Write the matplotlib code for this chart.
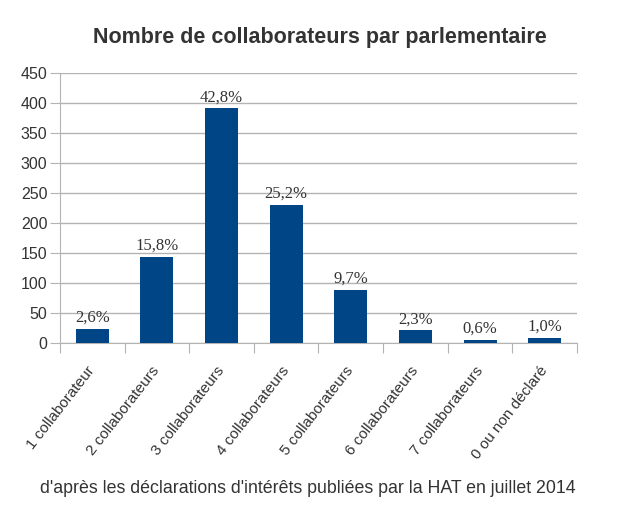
import matplotlib.pyplot as plt
import numpy as np

# Nombre de collaborateurs par parlementaire (déclarations HAT, juillet 2014)
categories = ["1 collaborateur", "2 collaborateurs", "3 collaborateurs",
              "4 collaborateurs", "5 collaborateurs", "6 collaborateurs",
              "7 collaborateurs", "0 ou non déclaré"]
counts = [24, 144, 391, 230, 89, 21, 5, 9]
pct_labels = ["2,6%", "15,8%", "42,8%", "25,2%", "9,7%", "2,3%", "0,6%", "1,0%"]
yticks = [0, 50, 100, 150, 200, 250, 300, 350, 400, 450]

bar_color = "#004586"
grid_color = "#b3b3b3"
text_color = "#333333"

plt.rcParams['font.family'] = ['Liberation Sans', 'DejaVu Sans']

fig = plt.figure(figsize=(6.2, 5.11), dpi=100)
ax = fig.add_axes([0.0968, 0.3288, 0.8338, 0.5283])

x = np.arange(len(categories))
ax.bar(x, counts, width=0.51, color=bar_color, zorder=3)

for xi, c, lab in zip(x, counts, pct_labels):
    ax.text(xi, c + 5, lab, ha="center", va="bottom", fontsize=12,
            family=["Liberation Serif", "DejaVu Serif"], color=text_color, zorder=4)

ax.set_xlim(-0.5, len(categories) - 0.5)
ax.set_ylim(0, 450)
ax.set_yticks(yticks)
ax.yaxis.grid(True, color=grid_color, linewidth=1, zorder=0)
ax.tick_params(axis="y", length=7, color=grid_color, labelsize=11.5, labelcolor=text_color, pad=2)

# category boundaries get the tick marks, labels sit at the centres
ax.set_xticks(np.arange(len(categories) + 1) - 0.5)
ax.set_xticklabels([])
ax.set_xticks(x, minor=True)
ax.set_xticklabels(categories, minor=True, rotation=52, ha="right", va="center",
                   rotation_mode="anchor", fontsize=11, color=text_color)
ax.tick_params(axis="x", which="major", length=7, color=grid_color)
ax.tick_params(axis="x", which="minor", length=0, pad=18)

for side in ["top", "right"]:
    ax.spines[side].set_visible(False)
for side in ["left", "bottom"]:
    ax.spines[side].set_color(grid_color)

fig.text(0.516, 0.927, "Nombre de collaborateurs par parlementaire", ha="center",
         va="center", fontsize=15.5, fontweight="bold", color=text_color)
fig.text(0.497, 0.045, "d'après les déclarations d'intérêts publiées par la HAT en juillet 2014",
         ha="center", va="center", fontsize=12.8, color=text_color)

fig.savefig("out.png", dpi=100)
